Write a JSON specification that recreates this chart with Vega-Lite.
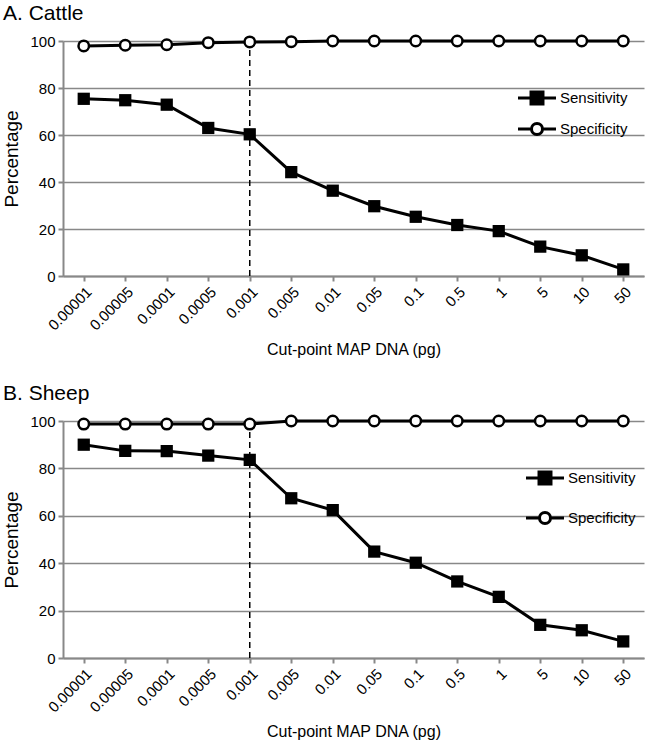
{
  "$schema": "https://vega.github.io/schema/vega-lite/v6.json",
  "background": "white",
  "padding": {"left": 2, "top": 2, "right": 4, "bottom": 2},
  "config": {
    "view": {"stroke": null},
    "font": "Liberation Sans",
    "title": {"font": "Liberation Sans", "fontSize": 21, "fontWeight": "normal", "color": "black"},
    "axis": {
      "labelFont": "Liberation Sans",
      "titleFont": "Liberation Sans",
      "labelColor": "black",
      "titleColor": "black",
      "titleFontWeight": "normal",
      "domainColor": "#888888",
      "domainWidth": 2,
      "tickColor": "#888888",
      "tickWidth": 2,
      "tickSize": 5,
      "gridColor": "#888888",
      "gridWidth": 1.5,
      "gridOpacity": 1
    },
    "legend": {"labelFont": "Liberation Sans", "labelFontSize": 15, "labelColor": "black"}
  },
  "datasets": {
    "cattle": [
      {"cut": "0.00001", "measure": "Sensitivity", "value": 75.4},
      {"cut": "0.00005", "measure": "Sensitivity", "value": 74.8},
      {"cut": "0.0001", "measure": "Sensitivity", "value": 72.9},
      {"cut": "0.0005", "measure": "Sensitivity", "value": 63.0},
      {"cut": "0.001", "measure": "Sensitivity", "value": 60.3},
      {"cut": "0.005", "measure": "Sensitivity", "value": 44.2},
      {"cut": "0.01", "measure": "Sensitivity", "value": 36.3},
      {"cut": "0.05", "measure": "Sensitivity", "value": 29.7},
      {"cut": "0.1", "measure": "Sensitivity", "value": 25.2},
      {"cut": "0.5", "measure": "Sensitivity", "value": 21.7},
      {"cut": "1", "measure": "Sensitivity", "value": 19.1},
      {"cut": "5", "measure": "Sensitivity", "value": 12.5},
      {"cut": "10", "measure": "Sensitivity", "value": 8.8},
      {"cut": "50", "measure": "Sensitivity", "value": 2.8},
      {"cut": "0.00001", "measure": "Specificity", "value": 97.9},
      {"cut": "0.00005", "measure": "Specificity", "value": 98.2},
      {"cut": "0.0001", "measure": "Specificity", "value": 98.4},
      {"cut": "0.0005", "measure": "Specificity", "value": 99.3},
      {"cut": "0.001", "measure": "Specificity", "value": 99.6},
      {"cut": "0.005", "measure": "Specificity", "value": 99.7},
      {"cut": "0.01", "measure": "Specificity", "value": 100},
      {"cut": "0.05", "measure": "Specificity", "value": 100},
      {"cut": "0.1", "measure": "Specificity", "value": 100},
      {"cut": "0.5", "measure": "Specificity", "value": 100},
      {"cut": "1", "measure": "Specificity", "value": 100},
      {"cut": "5", "measure": "Specificity", "value": 100},
      {"cut": "10", "measure": "Specificity", "value": 100},
      {"cut": "50", "measure": "Specificity", "value": 100}
    ],
    "sheep": [
      {"cut": "0.00001", "measure": "Sensitivity", "value": 90.0},
      {"cut": "0.00005", "measure": "Sensitivity", "value": 87.4},
      {"cut": "0.0001", "measure": "Sensitivity", "value": 87.3},
      {"cut": "0.0005", "measure": "Sensitivity", "value": 85.4},
      {"cut": "0.001", "measure": "Sensitivity", "value": 83.6},
      {"cut": "0.005", "measure": "Sensitivity", "value": 67.4},
      {"cut": "0.01", "measure": "Sensitivity", "value": 62.4},
      {"cut": "0.05", "measure": "Sensitivity", "value": 44.9},
      {"cut": "0.1", "measure": "Sensitivity", "value": 40.2},
      {"cut": "0.5", "measure": "Sensitivity", "value": 32.3},
      {"cut": "1", "measure": "Sensitivity", "value": 25.8},
      {"cut": "5", "measure": "Sensitivity", "value": 14.0},
      {"cut": "10", "measure": "Sensitivity", "value": 11.7},
      {"cut": "50", "measure": "Sensitivity", "value": 7.0},
      {"cut": "0.00001", "measure": "Specificity", "value": 98.7},
      {"cut": "0.00005", "measure": "Specificity", "value": 98.7},
      {"cut": "0.0001", "measure": "Specificity", "value": 98.7},
      {"cut": "0.0005", "measure": "Specificity", "value": 98.7},
      {"cut": "0.001", "measure": "Specificity", "value": 98.7},
      {"cut": "0.005", "measure": "Specificity", "value": 100},
      {"cut": "0.01", "measure": "Specificity", "value": 100},
      {"cut": "0.05", "measure": "Specificity", "value": 100},
      {"cut": "0.1", "measure": "Specificity", "value": 100},
      {"cut": "0.5", "measure": "Specificity", "value": 100},
      {"cut": "1", "measure": "Specificity", "value": 100},
      {"cut": "5", "measure": "Specificity", "value": 100},
      {"cut": "10", "measure": "Specificity", "value": 100},
      {"cut": "50", "measure": "Specificity", "value": 100}
    ],
    "cutline": [{"cut": "0.001", "lo": 0, "hi": 100}]
  },
  "spacing": 24,
  "vconcat": [
    {
      "title": {"text": "A. Cattle", "anchor": "start", "frame": "bounds", "offset": 7},
      "width": 581,
      "height": 235,
      "data": {"name": "cattle"},
      "encoding": {
        "x": {
          "field": "cut", "type": "ordinal",
          "scale": {"type": "point", "padding": 0.5, "domain": ["0.00001","0.00005","0.0001","0.0005","0.001","0.005","0.01","0.05","0.1","0.5","1","5","10","50"]},
          "axis": {"title": "Cut-point MAP DNA (pg)", "titleFontSize": 16, "titlePadding": 9, "labelFontSize": 15, "labelAngle": -45, "labelAlign": "right", "labelBaseline": "top", "grid": false, "labelPadding": 3}
        },
        "y": {
          "field": "value", "type": "quantitative",
          "scale": {"domain": [0, 100], "nice": false},
          "axis": {"title": "Percentage", "titleFontSize": 19, "titlePadding": 8, "labelFontSize": 15, "values": [0, 20, 40, 60, 80, 100], "grid": true, "labelPadding": 3}
        }
      },
      "layer": [
        {
          "data": {"name": "cutline"},
          "mark": {"type": "rule", "color": "black", "strokeWidth": 1.5, "strokeDash": [6, 4]},
          "encoding": {"y": {"field": "lo", "type": "quantitative"}, "y2": {"field": "hi"}}
        },
        {
          "mark": {"type": "line", "strokeWidth": 3},
          "encoding": {
            "color": {
              "field": "measure", "type": "nominal",
              "scale": {"domain": ["Sensitivity", "Specificity"], "range": ["black", "black"]},
              "legend": {
                "title": null, "orient": "none", "legendX": 463, "legendY": 46, "padding": 0,
                "symbolSize": 361, "labelOffset": 12, "rowPadding": 7,
                "encode": {"symbols": {"update": {
                  "shape": {"signal": "datum.value === 'Sensitivity' ? 'M-2,0H2M-0.63,-0.63H0.63V0.63H-0.63Z' : 'M-2,0H-0.58M0.58,0H2M-0.58,0A0.58,0.58 0 1 0 0.58,0A0.58,0.58 0 1 0 -0.58,0Z'"},
                  "fill": {"signal": "datum.value === 'Sensitivity' ? 'black' : 'white'"},
                  "stroke": {"value": "black"},
                  "strokeWidth": {"value": 3},
                  "opacity": {"value": 1}
                }}}
              }
            }
          }
        },
        {
          "transform": [{"filter": "datum.measure === 'Sensitivity'"}],
          "mark": {"type": "point", "shape": "square", "filled": true, "color": "black", "size": 150, "opacity": 1}
        },
        {
          "transform": [{"filter": "datum.measure === 'Specificity'"}],
          "mark": {"type": "point", "shape": "circle", "fill": "white", "stroke": "black", "strokeWidth": 2.5, "size": 110, "opacity": 1, "filled": false}
        }
      ]
    },
    {
      "title": {"text": "B. Sheep", "anchor": "start", "frame": "bounds", "offset": 7},
      "width": 581,
      "height": 237,
      "data": {"name": "sheep"},
      "encoding": {
        "x": {
          "field": "cut", "type": "ordinal",
          "scale": {"type": "point", "padding": 0.5, "domain": ["0.00001","0.00005","0.0001","0.0005","0.001","0.005","0.01","0.05","0.1","0.5","1","5","10","50"]},
          "axis": {"title": "Cut-point MAP DNA (pg)", "titleFontSize": 16, "titlePadding": 9, "labelFontSize": 15, "labelAngle": -45, "labelAlign": "right", "labelBaseline": "top", "grid": false, "labelPadding": 3}
        },
        "y": {
          "field": "value", "type": "quantitative",
          "scale": {"domain": [0, 100], "nice": false},
          "axis": {"title": "Percentage", "titleFontSize": 19, "titlePadding": 8, "labelFontSize": 15, "values": [0, 20, 40, 60, 80, 100], "grid": true, "labelPadding": 3}
        }
      },
      "layer": [
        {
          "data": {"name": "cutline"},
          "mark": {"type": "rule", "color": "black", "strokeWidth": 1.5, "strokeDash": [6, 4]},
          "encoding": {"y": {"field": "lo", "type": "quantitative"}, "y2": {"field": "hi"}}
        },
        {
          "mark": {"type": "line", "strokeWidth": 3},
          "encoding": {
            "color": {
              "field": "measure", "type": "nominal",
              "scale": {"domain": ["Sensitivity", "Specificity"], "range": ["black", "black"]},
              "legend": {
                "title": null, "orient": "none", "legendX": 471, "legendY": 46, "padding": 0,
                "symbolSize": 361, "labelOffset": 12, "rowPadding": 16,
                "encode": {"symbols": {"update": {
                  "shape": {"signal": "datum.value === 'Sensitivity' ? 'M-2,0H2M-0.63,-0.63H0.63V0.63H-0.63Z' : 'M-2,0H-0.58M0.58,0H2M-0.58,0A0.58,0.58 0 1 0 0.58,0A0.58,0.58 0 1 0 -0.58,0Z'"},
                  "fill": {"signal": "datum.value === 'Sensitivity' ? 'black' : 'white'"},
                  "stroke": {"value": "black"},
                  "strokeWidth": {"value": 3},
                  "opacity": {"value": 1}
                }}}
              }
            }
          }
        },
        {
          "transform": [{"filter": "datum.measure === 'Sensitivity'"}],
          "mark": {"type": "point", "shape": "square", "filled": true, "color": "black", "size": 150, "opacity": 1}
        },
        {
          "transform": [{"filter": "datum.measure === 'Specificity'"}],
          "mark": {"type": "point", "shape": "circle", "fill": "white", "stroke": "black", "strokeWidth": 2.5, "size": 110, "opacity": 1, "filled": false}
        }
      ]
    }
  ],
  "resolve": {"scale": {"color": "independent"}, "legend": {"color": "independent"}}
}
